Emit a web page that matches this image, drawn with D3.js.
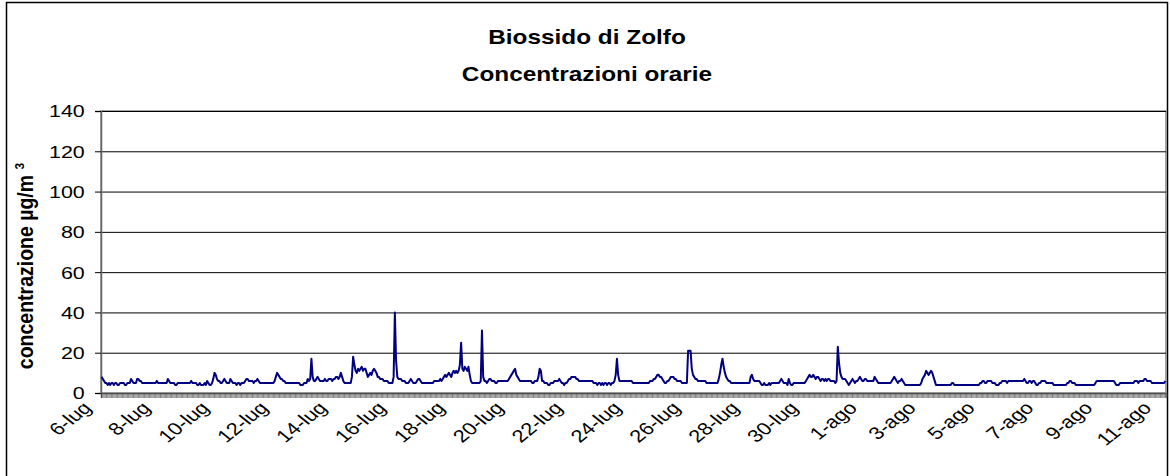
<!DOCTYPE html>
<html><head><meta charset="utf-8">
<script src="https://cdn.jsdelivr.net/npm/d3@7"></script>
<style>body{margin:0;background:#fff}svg{display:block}</style>
</head><body>
<svg id="chart" width="1170" height="476"></svg>
<script>
const titleLines = ["Biossido di Zolfo", "Concentrazioni orarie"];
const yAxisTitle = "concentrazione µg/m";
const yAxisTitleSup = "3";
const yTicks = [0, 20, 40, 60, 80, 100, 120, 140];
const days = ["6-lug","7-lug","8-lug","9-lug","10-lug","11-lug","12-lug","13-lug","14-lug","15-lug",
  "16-lug","17-lug","18-lug","19-lug","20-lug","21-lug","22-lug","23-lug","24-lug","25-lug",
  "26-lug","27-lug","28-lug","29-lug","30-lug","31-lug","1-ago","2-ago","3-ago","4-ago",
  "5-ago","6-ago","7-ago","8-ago","9-ago","10-ago","11-ago"];
// hourly SO2 concentrations (µg/m3), one row per day
const so2Values = [
  8,7,6,5,5,4,5,4,5,5,4,5,5,4,4,5,5,5,5,4,4,5,5,5,
  7,6,5,5,5,7,7,6,6,5,5,5,5,5,5,5,5,5,5,5,5,6,5,5,
  5,5,5,5,5,5,7,6,5,5,5,5,4,4,5,5,5,5,5,5,5,5,5,5,
  5,6,5,5,5,5,4,4,5,4,4,4,5,4,6,5,4,4,5,7,10,9,7,6,
  6,5,5,6,7,6,5,5,5,7,6,5,5,5,4,5,5,4,5,5,5,6,7,7,
  6,6,6,6,5,6,6,7,6,5,5,5,5,5,5,5,5,5,5,5,5,6,8,10,
  9,8,7,7,6,6,5,5,5,5,5,5,5,5,5,5,5,5,4,4,4,5,5,5,
  7,6,7,17,8,6,6,7,8,7,6,6,6,6,7,6,6,7,7,7,6,7,7,8,
  8,7,8,10,8,6,5,5,5,5,5,5,8,18,14,11,10,12,11,12,13,11,12,12,
  10,8,9,10,9,11,12,11,10,8,8,7,7,7,6,6,6,6,5,5,5,5,8,40,
  16,8,7,7,7,6,6,6,5,5,5,6,7,6,5,5,5,6,7,7,6,5,5,5,
  5,5,5,5,5,5,5,6,6,6,6,6,7,6,7,8,9,8,9,10,9,8,10,11,
  10,11,10,11,14,25,12,11,13,12,11,13,9,6,5,5,5,5,5,5,5,6,31,8,
  6,6,5,6,7,7,6,6,6,5,5,6,6,6,6,6,6,6,6,6,7,8,9,10,
  11,12,9,8,7,6,6,6,6,6,6,6,6,6,6,5,5,6,6,6,8,12,11,6,
  6,5,5,5,4,4,5,5,5,6,6,6,6,7,6,5,5,4,5,5,6,7,7,8,
  8,8,8,7,7,6,6,6,6,6,6,6,6,6,6,6,6,5,5,5,4,5,5,4,
  5,4,5,5,4,5,5,4,5,5,6,9,17,9,6,6,6,6,6,6,6,6,6,6,
  6,5,5,5,5,5,5,5,5,5,5,5,5,5,5,6,6,6,7,7,8,9,9,8,
  8,7,6,5,5,6,6,7,8,8,8,7,7,6,6,6,6,5,5,5,5,5,21,21,
  21,12,9,8,7,7,6,6,6,6,6,6,6,5,5,5,5,5,5,5,5,5,5,7,
  10,14,17,13,10,8,7,6,6,5,5,5,5,5,5,5,5,5,5,5,5,5,5,5,
  5,8,9,7,6,6,6,6,6,5,4,4,5,4,4,4,5,4,5,5,5,5,5,5,
  5,6,7,6,5,5,5,4,7,5,4,4,5,5,5,5,5,5,5,5,5,5,6,7,
  8,9,8,8,9,8,7,8,8,7,6,7,7,6,7,6,7,7,6,6,6,6,5,6,
  23,15,10,8,7,7,7,6,5,4,5,6,7,6,5,6,6,7,8,7,6,6,7,7,
  6,6,6,6,6,6,8,7,6,5,5,5,5,5,5,5,5,5,5,5,6,7,8,7,
  6,5,6,6,7,6,5,4,4,4,4,4,4,4,4,4,4,4,4,4,5,7,8,9,
  11,10,9,10,11,10,8,6,4,4,4,4,4,4,4,4,4,4,4,4,4,5,5,4,
  4,4,4,4,4,4,4,4,4,4,4,4,4,4,4,4,4,4,4,4,5,5,6,6,
  5,5,6,6,6,6,5,5,5,4,4,4,5,5,6,6,6,6,5,6,6,6,6,6,
  6,6,6,6,6,6,6,6,7,6,5,5,6,6,5,6,6,5,4,4,5,5,6,6,
  6,6,5,5,5,5,5,5,4,4,4,4,4,4,4,4,4,4,4,5,5,6,6,5,
  5,5,4,4,4,4,4,4,4,4,4,4,4,4,4,4,4,4,5,6,6,6,6,6,
  6,6,6,6,6,6,6,6,6,6,5,4,4,4,5,5,5,5,5,5,5,5,5,5,
  5,5,6,6,6,5,6,6,6,6,7,7,6,6,6,6,5,5,5,5,5,5,5,5,
  5,5,5,6
];

const svg = d3.select("#chart");
const plot = {left: 101, right: 1166, top: 111, bottom: 393};
const N = so2Values.length;
const idx = d3.range(N);
const FONT = "Liberation Sans, Arial, sans-serif";

const x = d3.scaleBand().domain(idx).range([plot.left, plot.right]).padding(0);
const y = d3.scaleLinear().domain([0, 140]).range([plot.bottom, plot.top]);

// chart border
svg.append("rect").attr("x", 6.5).attr("y", 2.5).attr("width", 1161).attr("height", 480)
  .attr("fill", "#fff").attr("stroke", "#000").attr("stroke-width", 1.5);

// title
svg.append("g").selectAll("text").data(titleLines).join("text")
  .attr("transform", (d, i) => `translate(587,${44 + i * 37}) scale(1.16,1)`)
  .attr("text-anchor", "middle")
  .attr("font-family", FONT)
  .attr("font-weight", "bold").attr("font-size", 21)
  .text(d => d);

// plot area border
svg.append("rect").attr("x", plot.left).attr("y", plot.top)
  .attr("width", plot.right - plot.left).attr("height", plot.bottom - plot.top)
  .attr("fill", "none").attr("stroke", "#888").attr("stroke-width", 1.5);

// gridlines
const grid = svg.append("g").attr("transform", `translate(${plot.left},0)`)
  .call(d3.axisLeft(y).tickValues(yTicks).tickSize(-(plot.right - plot.left)).tickFormat(""));
grid.select(".domain").remove();
grid.selectAll("line").attr("stroke", "#000").attr("stroke-width", 1);

// y axis
const yAx = svg.append("g").attr("transform", `translate(${plot.left},0)`)
  .call(d3.axisLeft(y).tickValues(yTicks).tickSize(6).tickPadding(0));
yAx.select(".domain").attr("stroke", "#666").attr("stroke-width", 1.5);
yAx.selectAll("line").attr("stroke", "#000");
yAx.selectAll("text")
  .attr("x", -12.5).attr("dy", "0.36em")
  .attr("transform", "scale(1.3,1)")
  .attr("font-family", FONT)
  .attr("font-size", 16.5).attr("fill", "#000");

// x axis
const xAx = svg.append("g").attr("transform", `translate(0,${plot.bottom})`)
  .call(d3.axisBottom(x).tickValues(idx).tickSize(5)
    .tickFormat(i => i % 48 === 0 ? days[Math.floor(i / 24)] : ""));
xAx.select(".domain").attr("stroke", "#666").attr("stroke-width", 1.5);
xAx.selectAll("line").attr("stroke", "#333").attr("stroke-width", 0.6);
xAx.selectAll("text")
  .attr("x", 0).attr("y", 0).attr("dy", 0)
  .attr("text-anchor", "end")
  .attr("transform", "translate(-9,16) scale(1.25,1) rotate(-45)")
  .attr("font-family", FONT)
  .attr("font-size", 17.5).attr("fill", "#000");

// y axis title
const yt = svg.append("text")
  .attr("transform", "translate(33,266) scale(1.14,1) rotate(-90)")
  .attr("text-anchor", "middle")
  .attr("font-family", FONT)
  .attr("font-weight", "bold").attr("font-size", 19.5);
yt.append("tspan").text(yAxisTitle + " ");
yt.append("tspan").attr("font-size", 12).attr("dy", -8).text(yAxisTitleSup);

// line
const line = d3.line().x(i => x(i) + x.bandwidth() / 2).y(i => y(so2Values[i]));
svg.append("path").datum(idx).attr("d", line)
  .attr("fill", "none").attr("stroke", "#000080").attr("stroke-width", 2)
  .attr("stroke-linejoin", "round");
</script>
</body></html>
